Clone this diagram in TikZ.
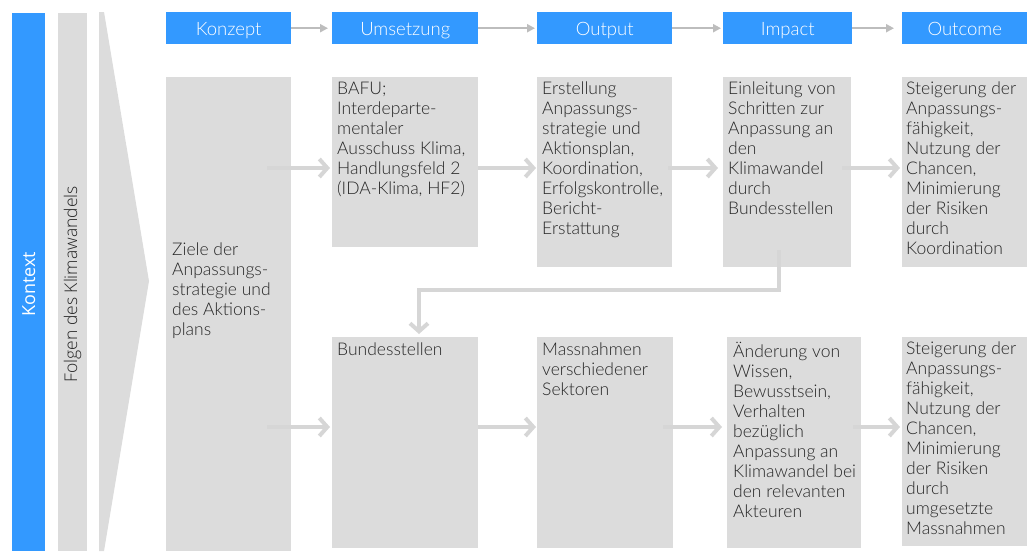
\documentclass[tikz,border=0pt]{standalone}
\usepackage{fontspec}
\setmainfont{Lato Light}
\newfontfamily\sidefont{Open Sans Light}
\newfontfamily\ctxfont{Open Sans}
\usetikzlibrary{arrows.meta,calc}

\definecolor{hdrblue}{HTML}{3399FF}
\definecolor{boxgray}{HTML}{DCDCDC}
\definecolor{flowgray}{HTML}{D6D6D6}
\definecolor{hdrline}{HTML}{BDBDBD}
\definecolor{ink}{HTML}{262626}

\tikzset{
  hdr/.style={fill=hdrblue, text=white, minimum height=32pt, inner sep=0pt,
    text height=16pt, text depth=2pt,
    anchor=north west, font=\fontsize{18.5}{20}\selectfont},
  cell/.style={fill=boxgray, inner sep=0pt, anchor=north west},
  celltext/.style={anchor=north west, align=left, inner sep=0pt, text=ink,
    font=\fontsize{17.5}{20}\selectfont},
  hdrarrow/.style={draw=hdrline, line width=2pt, -{Triangle[length=8pt,width=8pt]}},
  flow/.style={draw=flowgray, line width=4pt, -{Straight Barb[length=8pt,width=18pt]}},
  sidebar/.style={inner sep=0pt, anchor=north west, minimum height=538pt},
}

\begin{document}
\begin{tikzpicture}[x=1pt, y=-1pt]
\useasboundingbox (0,0) rectangle (1027,558);

% side bars
\node[sidebar, fill=hdrblue, minimum width=33pt] (ctx) at (12,13) {};
\node[rotate=90, text=white, font=\ctxfont\fontsize{18}{20}\selectfont] (ctxlabel) at ([yshift=-2pt]ctx.center) {Kontext};
\node[sidebar, fill=boxgray, minimum width=29pt] (folgen) at (58,13) {};
\node[rotate=90, text=ink, font=\sidefont\fontsize{17.5}{20}\selectfont] (folgenlabel) at ([yshift=-2pt]folgen.center) {Folgen des Klimawandels};
\fill[boxgray] (99,12) -- (104,12) -- (149,281) -- (104,551) -- (99,551) -- cycle;

% column headers
\node[hdr, minimum width=125pt] (h1) at (166,12) {Konzept};
\node[hdr, minimum width=146pt] (h2) at (332,12) {Umsetzung};
\node[hdr, minimum width=135pt] (h3) at (537,12) {Output};
\node[hdr, minimum width=129pt] (h4) at (723,12) {Impact};
\node[hdr, minimum width=125pt] (h5) at (902,12) {Outcome};

\draw[hdrarrow] (h1.east) -- ([xshift=-4pt]h2.west);
\draw[hdrarrow] (h2.east) -- ([xshift=-2pt]h3.west);
\draw[hdrarrow] (h3.east) -- ([xshift=-2pt]h4.west);
\draw[hdrarrow] (h4.east) -- ([xshift=-8pt]h5.west);

% content cells
\node[cell, minimum width=125pt, minimum height=474pt] (konzept) at (166,77) {};
\node[cell, minimum width=146pt, minimum height=170pt] (bafu) at (332,77) {};
\node[cell, minimum width=135pt, minimum height=190pt] (erst) at (537,77) {};
\node[cell, minimum width=128pt, minimum height=190pt] (einl) at (723,77) {};
\node[cell, minimum width=125pt, minimum height=190pt] (steigA) at (902,77) {};

\node[cell, minimum width=146pt, minimum height=211pt] (bund) at (332,337) {};
\node[cell, minimum width=136pt, minimum height=211pt] (mass) at (537,337) {};
\node[cell, minimum width=134pt, minimum height=211pt] (aend) at (727,337) {};
\node[cell, minimum width=125pt, minimum height=209pt] (steigB) at (902,337) {};

% cell texts
\node[celltext] (tkonzept) at (172,243) {Ziele der\\Anpassungs-\\strategie und\\des Aktions-\\plans};
\node[celltext] (tbafu) at ([shift={(5,5)}]bafu.north west) {BAFU;\\Interdeparte-\\mentaler\\Ausschuss Klima,\\Handlungsfeld 2\\(IDA-Klima, HF2)};
\node[celltext] (terst) at ([shift={(5,5)}]erst.north west) {Erstellung\\Anpassungs-\\strategie und\\Aktionsplan,\\Koordination,\\Erfolgskontrolle,\\Bericht-\\Erstattung};
\node[celltext] (teinl) at ([shift={(5,5)}]einl.north west) {Einleitung von\\Schritten zur\\Anpassung an\\den\\Klimawandel\\durch\\Bundesstellen};
\node[celltext] (tsteigA) at ([shift={(4,5)}]steigA.north west) {Steigerung der\\Anpassungs-\\fähigkeit,\\Nutzung der\\Chancen,\\Minimierung\\der Risiken\\durch\\Koordination};

\node[celltext] (tbund) at ([shift={(5,6)}]bund.north west) {Bundesstellen};
\node[celltext] (tmass) at ([shift={(5,6)}]mass.north west) {Massnahmen\\verschiedener\\Sektoren};
\node[celltext] (taend) at ([shift={(6,5)}]aend.north west) {Änderung von\\Wissen,\\Bewusstsein,\\Verhalten\\bezüglich\\Anpassung an\\Klimawandel bei\\den relevanten\\Akteuren};
\node[celltext] (tsteigB) at ([shift={(4,5)}]steigB.north west) {Steigerung der\\Anpassungs-\\fähigkeit,\\Nutzung der\\Chancen,\\Minimierung\\der Risiken\\durch\\umgesetzte\\Massnahmen};

% flow arrows, upper row
\coordinate (rowA) at (0,168);
\draw[flow] (konzept.east |- rowA) ++(-24,0) -- ([xshift=-2pt]bafu.west |- rowA);
\draw[flow] (bafu.east |- rowA) -- ([xshift=-1pt]erst.west |- rowA);
\draw[flow] (erst.east |- rowA) ++(-4,0) -- ([xshift=-5pt]einl.west |- rowA);
\draw[flow] (einl.east |- rowA) ++(-9,0) -- ([xshift=-2pt]steigA.west |- rowA);

% flow arrows, lower row
\coordinate (rowB) at (0,427);
\draw[flow] (konzept.east |- rowB) ++(-24,0) -- ([xshift=-2pt]bund.west |- rowB);
\draw[flow] (bund.east |- rowB) -- ([xshift=-1pt]mass.west |- rowB);
\draw[flow] (mass.east |- rowB) ++(-10,0) -- ([xshift=-5pt]aend.west |- rowB);
\draw[flow] (aend.east |- rowB) ++(-8,0) -- ([xshift=-2pt]steigB.west |- rowB);

% feedback from impact to the lower row
\coordinate (bend) at (419,290);
\draw[flow, shorten >=3pt] (einl.south) ++(-8,-17) |- (bend) -- (bend |- bund.north);
\end{tikzpicture}
\end{document}
